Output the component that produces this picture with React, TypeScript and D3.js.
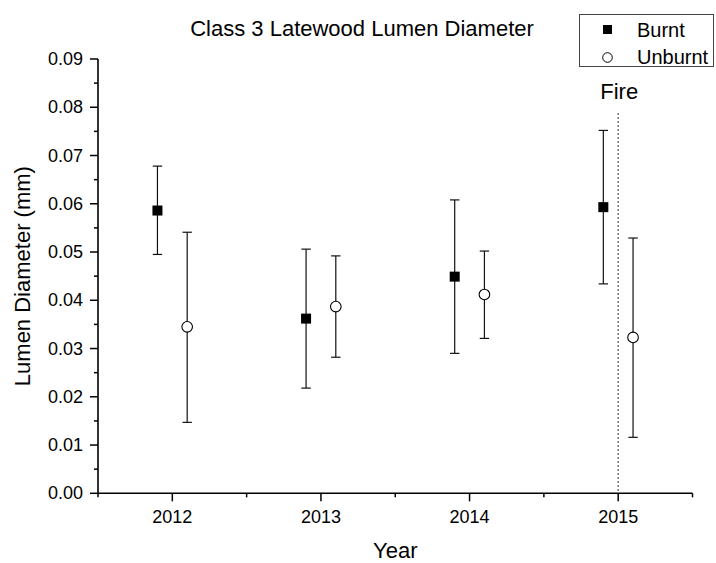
import React from "react";
import * as d3 from "d3";

const years = [2012, 2013, 2014, 2015];
const burntMean = [0.0586, 0.0362, 0.0449, 0.0593];
const burntUpper = [0.0678, 0.0506, 0.0608, 0.0752];
const burntLower = [0.0495, 0.0218, 0.029, 0.0434];
const unburntMean = [0.0345, 0.0387, 0.0412, 0.0323];
const unburntUpper = [0.0541, 0.0492, 0.0502, 0.0529];
const unburntLower = [0.0147, 0.0282, 0.0321, 0.0116];
const yTicks = [0, 0.01, 0.02, 0.03, 0.04, 0.05, 0.06, 0.07, 0.08, 0.09];
const fireYear = 2015;

const W = 716;
const H = 563;
const FONT = "'Liberation Sans', Arial, sans-serif";

export default function App() {
  const x = d3.scaleLinear().domain([2011.5, 2015.5]).range([98, 692.5]);
  const y = d3.scaleLinear().domain([0, 0.09]).range([493.3, 59]);
  const off = 0.1;
  const cap = 4.7;
  const minorY = d3.range(0.005, 0.09, 0.01);
  const minorX = [2011.5, 2012.5, 2013.5, 2014.5, 2015.5];

  const series = [
    { mean: burntMean, up: burntUpper, lo: burntLower, dx: -off, type: "sq" },
    { mean: unburntMean, up: unburntUpper, lo: unburntLower, dx: off, type: "ci" },
  ];

  return (
    <svg width={W} height={H} style={{ position: "absolute", left: 0, top: 0 }} fontFamily={FONT}>
      <rect width={W} height={H} fill="#fff" />
      <text x={362} y={36} fontSize={22} textAnchor="middle" fill="#000">
        Class 3 Latewood Lumen Diameter
      </text>

      {/* fire line */}
      <line x1={x(fireYear)} x2={x(fireYear)} y1={113} y2={y(0)} stroke="#777" strokeWidth={1.5} strokeDasharray="2,2" />
      <text x={x(fireYear) + 1} y={99} fontSize={22} textAnchor="middle" fill="#000">Fire</text>

      {/* error bars and markers */}
      {series.map((s, si) =>
        years.map((yr, i) => {
          const cx = x(yr + s.dx);
          return (
            <g key={`${si}-${i}`}>
              <line x1={cx} x2={cx} y1={y(s.up[i])} y2={y(s.lo[i])} stroke="#111" strokeWidth={1.2} />
              <line x1={cx - cap} x2={cx + cap} y1={y(s.up[i])} y2={y(s.up[i])} stroke="#111" strokeWidth={1.2} />
              <line x1={cx - cap} x2={cx + cap} y1={y(s.lo[i])} y2={y(s.lo[i])} stroke="#111" strokeWidth={1.2} />
              {s.type === "sq" ? (
                <rect x={cx - 5} y={y(s.mean[i]) - 5} width={10} height={10} fill="#000" />
              ) : (
                <circle cx={cx} cy={y(s.mean[i])} r={5.3} fill="#fff" stroke="#000" strokeWidth={1.1} />
              )}
            </g>
          );
        })
      )}

      {/* axes */}
      <line x1={x(2011.5)} x2={x(2011.5)} y1={y(0.09)} y2={y(0)} stroke="#000" strokeWidth={1.6} />
      <line x1={x(2011.5)} x2={x(2015.5)} y1={y(0)} y2={y(0)} stroke="#000" strokeWidth={1.6} />
      {yTicks.map((t) => (
        <g key={t}>
          <line x1={x(2011.5) - 8} x2={x(2011.5)} y1={y(t)} y2={y(t)} stroke="#000" strokeWidth={1.5} />
          <text x={83} y={y(t) + 6} fontSize={18} textAnchor="end" fill="#000">
            {t.toFixed(2)}
          </text>
        </g>
      ))}
      {minorY.map((t) => (
        <line key={t} x1={x(2011.5) - 4} x2={x(2011.5)} y1={y(t)} y2={y(t)} stroke="#000" strokeWidth={1.5} />
      ))}
      {years.map((t) => (
        <g key={t}>
          <line x1={x(t)} x2={x(t)} y1={y(0)} y2={y(0) + 8} stroke="#000" strokeWidth={1.5} />
          <text x={x(t)} y={523} fontSize={18} textAnchor="middle" fill="#000">{t}</text>
        </g>
      ))}
      {minorX.map((t) => (
        <line key={t} x1={x(t)} x2={x(t)} y1={y(0)} y2={y(0) + 4} stroke="#000" strokeWidth={1.5} />
      ))}

      <text x={(x(2011.5) + x(2015.5)) / 2} y={558} fontSize={22} textAnchor="middle" fill="#000">Year</text>
      <text transform={`translate(30, ${(y(0) + y(0.09)) / 2}) rotate(-90)`} fontSize={22} textAnchor="middle" fill="#000">
        Lumen Diameter (mm)
      </text>

      {/* legend */}
      <rect x={579.5} y={14.5} width={134} height={52} fill="#fff" stroke="#444" strokeWidth={1} />
      <rect x={603} y={25} width={9} height={9} fill="#000" />
      <text x={637} y={36.5} fontSize={20} fill="#000">Burnt</text>
      <circle cx={607.5} cy={57.5} r={4.8} fill="#fff" stroke="#000" strokeWidth={1} />
      <text x={637} y={64} fontSize={20} fill="#000">Unburnt</text>
    </svg>
  );
}
